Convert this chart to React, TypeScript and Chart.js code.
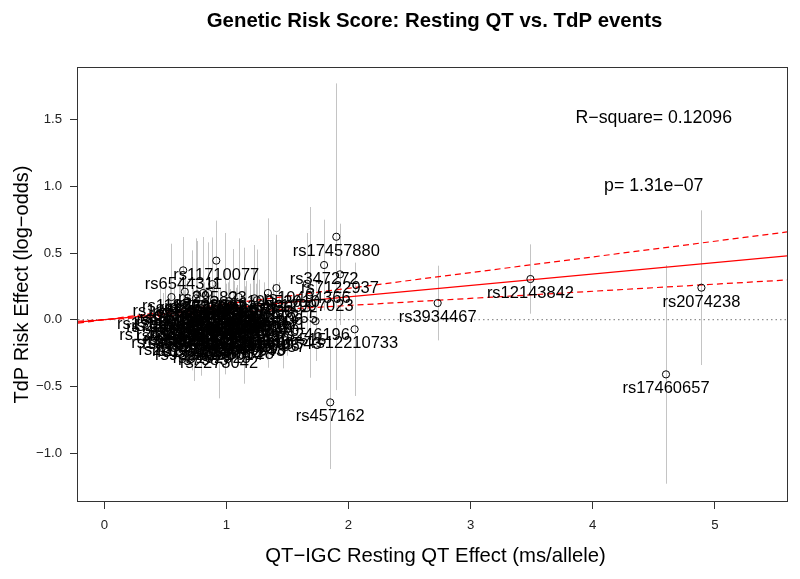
import React, { useEffect, useRef } from "react";
import { Chart, registerables } from "chart.js";

Chart.register(...registerables);

const FONT = '"Liberation Sans", Arial, Helvetica, sans-serif';

// ---- data ----
const snpIds = [
  "rs17457880", "rs347272", "rs7122937", "rs12143842", "rs3934467", "rs2074238", "rs17460657", "rs457162", "rs12210733", "rs246196",
  "rs6669543", "rs12997023", "rs10494366", "rs10052010", "rs4657178", "rs8049075", "rs2301696", "rs11710077", "rs6544311", "rs295823",
  "rs9892651", "rs2273042", "rs1568942", "rs7188697", "rs1805128", "rs4148325", "rs10919071", "rs2074518", "rs938291", "rs7341478",
  "rs11129795", "rs12576239", "rs3857067", "rs1961102", "rs295140", "rs17779747", "rs2363719", "rs6793245", "rs4725982", "rs8102325",
  "rs1052536", "rs7561149", "rs2968864", "rs10040989", "rs3026445", "rs1296720", "rs6546452", "rs16936870", "rs7765828", "rs174583",
  "rs12296050", "rs3105593", "rs2880058", "rs11153730", "rs10919070", "rs7306706", "rs4823006", "rs12053903", "rs846111", "rs2297355",
  "rs1396515", "rs9920", "rs6800541", "rs4687718", "rs11970286", "rs2072413", "rs1801253", "rs4962153", "rs10494338", "rs8000379",
  "rs3864180", "rs7983", "rs11708996", "rs13388221", "rs17608766", "rs6038729", "rs1295765", "rs4236614", "rs16857031", "rs2485376",
  "rs12029454", "rs735951", "rs10850409", "rs6801957", "rs11047543", "rs2968863", "rs4593960", "rs7607480", "rs1805127", "rs3026457",
  "rs9470361", "rs2301695", "rs12692321", "rs17051446",
];

const qtEffect = [
  1.90, 1.80, 1.93, 3.49, 2.73, 4.89, 4.60, 1.85, 2.05, 1.73,
  1.46, 1.685, 1.66, 1.41, 1.25, 1.22, 1.15, 0.917, 0.646, 0.885,
  0.735, 0.94, 0.54, 0.50, 0.55, 0.58, 0.62, 0.60, 0.65, 0.68,
  0.70, 0.72, 0.74, 0.76, 0.78, 0.79, 0.82, 0.84, 0.85, 0.88,
  0.90, 0.92, 0.95, 0.99, 1.00, 1.01, 1.03, 1.05, 1.07, 1.09,
  1.12, 1.14, 1.17, 1.19, 1.24, 1.28, 1.31, 1.34, 1.38, 1.43,
  1.50, 0.53, 0.57, 0.63, 0.66, 0.69, 0.71, 0.73, 0.75, 0.77,
  0.81, 0.81, 0.83, 0.87, 0.89, 0.93, 0.96, 0.98, 1.00, 1.02,
  1.04, 1.06, 1.08, 1.10, 1.13, 1.16, 1.20, 1.23, 1.27, 1.33,
  0.61, 0.54, 0.48, 0.46,
];

const tdpEffect = [
  0.622, 0.41, 0.34, 0.305, 0.125, 0.24, -0.41, -0.62, -0.072, -0.01,
  -0.075, 0.205, 0.27, 0.237, 0.146, 0.08, 0.0, 0.443, 0.37, 0.267,
  -0.16, -0.22, -0.07, 0.05, 0.17, -0.02, 0.10, -0.12, 0.02, 0.14,
  -0.05, 0.07, -0.10, 0.19, 0.0, -0.14, 0.11, -0.03, 0.20, -0.18,
  0.15, -0.07, 0.03, 0.12, -0.11, 0.08, -0.02, 0.18, -0.15, 0.05,
  -0.06, 0.03, -0.12, 0.04, 0.02, -0.09, 0.10, 0.20, 0.07, 0.12,
  -0.05, -0.04, 0.08, -0.08, 0.21, -0.01, -0.13, 0.04, 0.16, -0.06,
  0.20, -0.20, 0.01, -0.09, 0.04, 0.10, -0.04, -0.16, 0.03, 0.14,
  -0.08, 0.06, -0.02, 0.17, -0.13, 0.09, -0.07, 0.16, 0.05, -0.10,
  0.12, 0.055, -0.01, 0.07,
];

const ciHalfWidth = [
  1.15, 0.34, 0.38, 0.26, 0.28, 0.58, 0.82, 0.50, 0.50, 0.30,
  0.29, 0.64, 0.38, 0.40, 0.38, 0.30, 0.25, 0.30, 0.25, 0.35,
  0.30, 0.37, 0.20, 0.22, 0.40, 0.18, 0.18, 0.17, 0.20, 0.15,
  0.22, 0.45, 0.18, 0.40, 0.19, 0.28, 0.17, 0.22, 0.38, 0.12,
  0.14, 0.20, 0.20, 0.53, 0.19, 0.20, 0.25, 0.35, 0.15, 0.21,
  0.22, 0.51, 0.17, 0.23, 0.25, 0.20, 0.18, 0.56, 0.20, 0.16,
  0.22, 0.20, 0.20, 0.20, 0.10, 0.19, 0.15, 0.20, 0.45, 0.20,
  0.42, 0.10, 0.18, 0.20, 0.22, 0.18, 0.21, 0.14, 0.24, 0.16,
  0.20, 0.23, 0.26, 0.44, 0.17, 0.20, 0.22, 0.40, 0.25, 0.20,
  0.18, 0.22, 0.21, 0.24,
];

const xTicks = [0, 1, 2, 3, 4, 5];
const yTicks = [-1.0, -0.5, 0.0, 0.5, 1.0, 1.5];
const xRange = [-0.2154, 5.591];
const yRange = [-1.3596, 1.8875];

const fitSlope = 0.0855;
const fitSlopeLower = 0.0533;
const fitSlopeUpper = 0.1177;

const titleText = "Genetic Risk Score: Resting QT vs. TdP events";
const xTitle = "QT\u2212IGC Resting QT Effect (ms/allele)";
const yTitle = "TdP Risk Effect (log\u2212odds)";
const rSquareText = "R\u2212square= 0.12096";
const pValueText = "p= 1.31e\u221207";
const annotX = 4.5;
const rSquareY = 1.5;
const pValueY = 1.0;

const fmtMinus = (s: string) => s.replace("-", "\u2212");

const overlayPlugin = {
  id: "overlay",
  beforeDatasetsDraw(chart: any) {
    const { ctx, chartArea, scales } = chart;
    const x = scales.x;
    const y = scales.y;
    ctx.save();
    ctx.beginPath();
    ctx.rect(chartArea.left, chartArea.top, chartArea.right - chartArea.left, chartArea.bottom - chartArea.top);
    ctx.clip();
    ctx.strokeStyle = "#c4c4c4";
    ctx.lineWidth = 1;
    for (let i = 0; i < qtEffect.length; i++) {
      const px = Math.round(x.getPixelForValue(qtEffect[i])) + 0.5;
      ctx.beginPath();
      ctx.moveTo(px, y.getPixelForValue(tdpEffect[i] - ciHalfWidth[i]));
      ctx.lineTo(px, y.getPixelForValue(tdpEffect[i] + ciHalfWidth[i]));
      ctx.stroke();
    }
    ctx.restore();
  },
  afterDatasetsDraw(chart: any) {
    const { ctx, chartArea, scales } = chart;
    const x = scales.x;
    const y = scales.y;
    ctx.save();
    // point labels
    ctx.fillStyle = "#000";
    ctx.font = `16.5px ${FONT}`;
    ctx.textAlign = "center";
    ctx.textBaseline = "alphabetic";
    for (let i = 0; i < snpIds.length; i++) {
      const px = x.getPixelForValue(qtEffect[i]);
      const py = y.getPixelForValue(tdpEffect[i]);
      ctx.fillText(snpIds[i], px, py + 19);
    }
    // annotations
    ctx.font = `17.7px ${FONT}`;
    ctx.fillText(rSquareText, x.getPixelForValue(annotX), y.getPixelForValue(rSquareY) + 3.8);
    ctx.fillText(pValueText, x.getPixelForValue(annotX), y.getPixelForValue(pValueY) + 4.2);
    // box
    ctx.strokeStyle = "#333";
    ctx.lineWidth = 1;
    ctx.strokeRect(chartArea.left - 0.5, chartArea.top - 0.5, chartArea.right - chartArea.left + 1, chartArea.bottom - chartArea.top + 1);
    // title
    const cx = (chartArea.left + chartArea.right) / 2;
    ctx.font = `bold 20.4px ${FONT}`;
    ctx.fillText(titleText, cx + 2, 26.7);
    // x title
    ctx.font = `20.3px ${FONT}`;
    ctx.fillText(xTitle, cx + 3, 562);
    // y title
    ctx.save();
    ctx.translate(28.3, (chartArea.top + chartArea.bottom) / 2);
    ctx.rotate(-Math.PI / 2);
    ctx.font = `20px ${FONT}`;
    ctx.fillText(yTitle, 0, 0);
    ctx.restore();
    ctx.restore();
  },
};

export default function App() {
  const canvasRef = useRef<HTMLCanvasElement | null>(null);

  useEffect(() => {
    if (!canvasRef.current) return;
    const points = qtEffect.map((v, i) => ({ x: v, y: tdpEffect[i] }));
    const lineAt = (s: number) => [
      { x: xRange[0], y: s * xRange[0] },
      { x: xRange[1], y: s * xRange[1] },
    ];
    const chart = new Chart(canvasRef.current, {
      type: "scatter",
      data: {
        datasets: [
          {
            label: "SNPs",
            data: points,
            pointRadius: 3.6,
            pointBorderWidth: 1,
            borderColor: "#000",
            backgroundColor: "rgba(0,0,0,0)",
            pointHoverRadius: 3.6,
            order: 1,
          },
          {
            label: "fit",
            data: lineAt(fitSlope),
            showLine: true,
            pointRadius: 0,
            borderColor: "#ff0000",
            borderWidth: 1.3,
            order: 2,
          },
          {
            label: "upper",
            data: lineAt(fitSlopeUpper),
            showLine: true,
            pointRadius: 0,
            borderColor: "#ff0000",
            borderWidth: 1.2,
            borderDash: [6, 4],
            order: 3,
          },
          {
            label: "lower",
            data: lineAt(fitSlopeLower),
            showLine: true,
            pointRadius: 0,
            borderColor: "#ff0000",
            borderWidth: 1.2,
            borderDash: [6, 4],
            order: 4,
          },
          {
            label: "zero",
            data: lineAt(0),
            showLine: true,
            pointRadius: 0,
            borderColor: "#777",
            borderWidth: 1,
            borderDash: [1.5, 3],
            order: 5,
          },
        ],
      },
      options: {
        animation: false,
        responsive: false,
        devicePixelRatio: 1,
        layout: { padding: { top: 68, right: 13, bottom: 0, left: 0 } },
        plugins: {
          legend: { display: false },
          title: { display: false },
          tooltip: { enabled: false },
        },
        events: [],
        scales: {
          x: {
            type: "linear",
            min: xRange[0],
            max: xRange[1],
            afterFit: (s: any) => {
              s.height = 78;
            },
            afterBuildTicks: (s: any) => {
              s.ticks = xTicks.map((v) => ({ value: v }));
            },
            border: { display: false },
            grid: { display: true, drawOnChartArea: false, drawTicks: true, tickLength: 8, color: "#333" },
            ticks: {
              font: { family: FONT, size: 13.2 },
              color: "#222",
              padding: 8,
              maxRotation: 0,
              autoSkip: false,
              callback: (v: any) => String(v),
            },
          },
          y: {
            type: "linear",
            min: yRange[0],
            max: yRange[1],
            afterFit: (s: any) => {
              s.width = 78;
            },
            afterBuildTicks: (s: any) => {
              s.ticks = yTicks.map((v) => ({ value: v }));
            },
            border: { display: false },
            grid: { display: true, drawOnChartArea: false, drawTicks: true, tickLength: 8, color: "#333" },
            ticks: {
              font: { family: FONT, size: 13.2 },
              color: "#222",
              padding: 8,
              autoSkip: false,
              callback: (v: any) => fmtMinus(Number(v).toFixed(1)),
            },
          },
        },
      },
      plugins: [overlayPlugin],
    });
    return () => chart.destroy();
  }, []);

  return (
    <div style={{ position: "absolute", left: 0, top: 0, width: 800, height: 579, background: "#fff" }}>
      <canvas ref={canvasRef} width={800} height={579} style={{ display: "block" }} />
    </div>
  );
}
